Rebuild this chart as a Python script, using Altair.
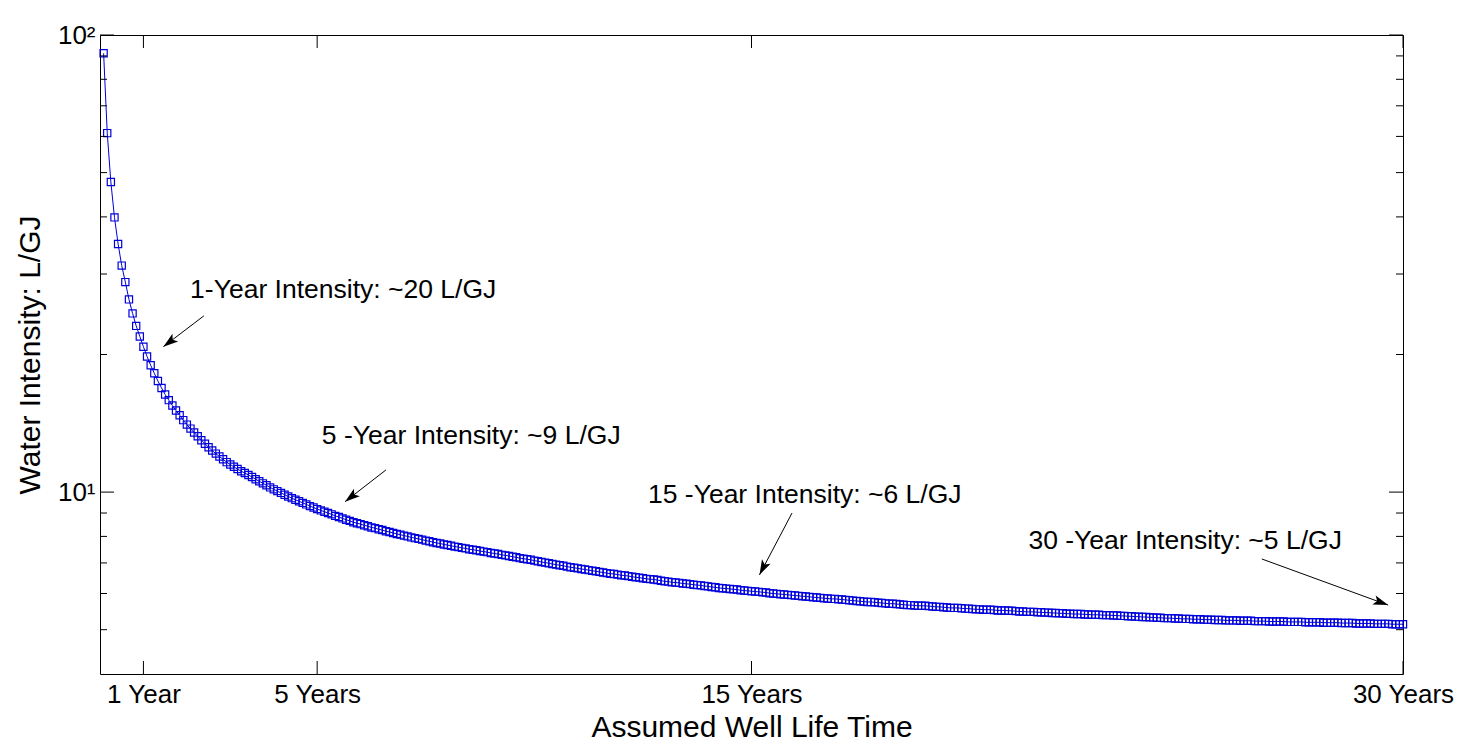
import altair as alt
import pandas as pd

# Water intensity (L/GJ) at the end of each month of well life, months 1..360
months = list(range(1, 361))
intensity = [
    91.2, 61.0, 47.7, 39.9, 34.9, 31.3, 28.8, 26.4, 24.6, 23.1,
    21.9, 20.8, 19.8, 18.95, 18.2, 17.5, 16.9, 16.35, 15.89, 15.47,
    15.08, 14.73, 14.37, 14.05, 13.77, 13.50, 13.25, 12.99, 12.76, 12.53,
    12.33, 12.14, 11.96, 11.80, 11.63, 11.49, 11.36, 11.23, 11.11, 11.01,
    10.90, 10.79, 10.67, 10.56, 10.45, 10.35, 10.24, 10.14, 10.05, 9.96,
    9.87, 9.78, 9.70, 9.62, 9.55, 9.47, 9.40, 9.32, 9.25, 9.18,
    9.12, 9.06, 9.00, 8.94, 8.87, 8.82, 8.76, 8.70, 8.65, 8.59,
    8.55, 8.51, 8.46, 8.42, 8.37, 8.34, 8.29, 8.26, 8.21, 8.18,
    8.14, 8.10, 8.07, 8.03, 8.00, 7.96, 7.93, 7.90, 7.87, 7.83,
    7.81, 7.77, 7.74, 7.72, 7.68, 7.66, 7.63, 7.60, 7.58, 7.55,
    7.53, 7.50, 7.48, 7.46, 7.43, 7.41, 7.39, 7.36, 7.34, 7.32,
    7.29, 7.27, 7.25, 7.22, 7.20, 7.17, 7.15, 7.13, 7.11, 7.08,
    7.06, 7.03, 7.01, 6.99, 6.96, 6.94, 6.92, 6.90, 6.87, 6.85,
    6.83, 6.81, 6.79, 6.77, 6.75, 6.73, 6.71, 6.69, 6.67, 6.65,
    6.63, 6.62, 6.60, 6.58, 6.57, 6.55, 6.53, 6.51, 6.50, 6.48,
    6.46, 6.45, 6.44, 6.42, 6.40, 6.38, 6.37, 6.35, 6.34, 6.33,
    6.31, 6.30, 6.29, 6.27, 6.26, 6.25, 6.23, 6.22, 6.20, 6.19,
    6.17, 6.16, 6.15, 6.14, 6.13, 6.12, 6.10, 6.09, 6.08, 6.07,
    6.06, 6.05, 6.04, 6.03, 6.01, 6.00, 5.99, 5.98, 5.97, 5.96,
    5.95, 5.94, 5.93, 5.92, 5.91, 5.90, 5.89, 5.88, 5.87, 5.86,
    5.85, 5.84, 5.84, 5.83, 5.82, 5.81, 5.80, 5.79, 5.78, 5.77,
    5.76, 5.75, 5.75, 5.74, 5.73, 5.72, 5.71, 5.70, 5.70, 5.69,
    5.68, 5.67, 5.66, 5.66, 5.65, 5.64, 5.64, 5.64, 5.63, 5.62,
    5.61, 5.61, 5.60, 5.59, 5.58, 5.58, 5.58, 5.57, 5.56, 5.56,
    5.55, 5.54, 5.54, 5.53, 5.53, 5.53, 5.52, 5.51, 5.51, 5.51,
    5.50, 5.50, 5.49, 5.48, 5.48, 5.47, 5.47, 5.47, 5.46, 5.46,
    5.45, 5.45, 5.44, 5.44, 5.43, 5.43, 5.42, 5.42, 5.41, 5.41,
    5.41, 5.40, 5.40, 5.39, 5.39, 5.39, 5.38, 5.38, 5.38, 5.37,
    5.37, 5.36, 5.36, 5.35, 5.35, 5.34, 5.34, 5.33, 5.33, 5.32,
    5.32, 5.31, 5.31, 5.30, 5.30, 5.30, 5.29, 5.29, 5.28, 5.28,
    5.28, 5.27, 5.27, 5.27, 5.26, 5.26, 5.26, 5.25, 5.25, 5.25,
    5.24, 5.24, 5.24, 5.24, 5.23, 5.23, 5.23, 5.23, 5.22, 5.22,
    5.22, 5.22, 5.21, 5.21, 5.21, 5.21, 5.21, 5.20, 5.20, 5.20,
    5.20, 5.20, 5.19, 5.19, 5.19, 5.19, 5.19, 5.18, 5.18, 5.18,
    5.18, 5.18, 5.17, 5.17, 5.17, 5.17, 5.16, 5.16, 5.16, 5.16,
    5.16, 5.15, 5.15, 5.15, 5.15, 5.15, 5.14, 5.14, 5.14, 5.14,
]

# Axis ticks and labels
tick_months = [12, 60, 180, 360]
tick_names = ["1 Year", "5 Years", "15 Years", "30 Years"]
decades = [10, 100]
decade_names = ["10\u00b9", "10\u00b2"]
minor_levels = [5, 6, 7, 8, 9, 20, 30, 40, 50, 60, 70, 80, 90]

# Callout texts, anchored at their left baseline (month, L/GJ)
note_text = [
    "1-Year Intensity: ~20 L/GJ",
    "5 -Year Intensity: ~9 L/GJ",
    "15 -Year Intensity: ~6 L/GJ",
    "30 -Year Intensity: ~5 L/GJ",
]
note_month = [24.9, 61.3, 151.4, 256.5]
note_level = [26.6, 12.74, 9.47, 7.50]

# Arrows: tail -> head, in (month, L/GJ)
arrow_tail_month = [28.7, 79.0, 191.2, 321.0]
arrow_tail_level = [24.3, 11.18, 9.00, 7.14]
arrow_head_month = [17.5, 67.7, 182.2, 355.9]
arrow_head_level = [20.8, 9.53, 6.59, 5.66]
arrow_angle = [233, 232, 207, 110]

W, H = 1303, 639
BLUE = "#0000dc"
FONT = "Liberation Sans"

df = pd.DataFrame({"month": months, "intensity": intensity})
xs = alt.Scale(domain=[0, 360], nice=False, zero=False)
ys = alt.Scale(type="log", domain=[4, 100], nice=False)


def case_expr(values, names):
    expr = "''"
    for v, n in reversed(list(zip(values, names))):
        expr = f"datum.value == {v} ? '{n}' : ({expr})"
    return expr


x_axis = alt.Axis(
    values=tick_months, labelExpr=case_expr(tick_months, tick_names),
    ticks=False, domain=False, grid=False, labelFontSize=26, labelPadding=7,
    labelFlush=False, labelOverlap=False, title="Assumed Well Life Time",
    titleFontSize=30, titleFontWeight="normal",
    titleX=W / 2, titleY=62, titleBaseline="alphabetic", titleAlign="center",
)
y_axis = alt.Axis(
    values=decades, labelExpr=case_expr(decades, decade_names),
    ticks=False, domain=False, grid=False, labelFontSize=26, labelPadding=5,
    labelOverlap=False, labelFlush=False, title="Water Intensity: L/GJ",
    titleFontSize=30, titleFontWeight="normal",
    titleX=-61, titleY=H / 2, titleAngle=270, titleBaseline="alphabetic",
    titleAlign="center",
)


def X(field):
    return alt.X(field, type="quantitative", scale=xs, axis=x_axis)


def Y(field):
    return alt.Y(field, type="quantitative", scale=ys, axis=y_axis)


base = alt.Chart(df)
curve = base.mark_line(color=BLUE, strokeWidth=1).encode(
    x=X("month"), y=Y("intensity"),
)
markers = base.mark_point(
    shape="square", size=52, filled=False, color=BLUE, strokeWidth=1.2, opacity=1
).encode(x=X("month"), y=Y("intensity"))

# Inward tick marks on all four sides of the box
minor_df = pd.DataFrame({"level": minor_levels})
major_df = pd.DataFrame({"level": decades})
xt_df = pd.DataFrame({"month": tick_months})


def ytick(data, x0, x1):
    return alt.Chart(data).mark_rule(color="black", strokeWidth=1).encode(
        y=Y("level"), x=alt.value(x0), x2=alt.value(x1),
    )


def xtick(y0, y1):
    return alt.Chart(xt_df).mark_rule(color="black", strokeWidth=1).encode(
        x=X("month"), y=alt.value(y0), y2=alt.value(y1),
    )


ticks = [
    ytick(minor_df, 0, 7), ytick(minor_df, W - 7, W),
    ytick(major_df, 0, 14), ytick(major_df, W - 14, W),
    xtick(H - 13, H), xtick(0, 13),
]

notes_df = pd.DataFrame({"text": note_text, "month": note_month, "level": note_level})
notes = alt.Chart(notes_df).mark_text(
    align="left", baseline="alphabetic", font=FONT, fontSize=26.5, color="black"
).encode(x=X("month"), y=Y("level"), text="text:N")

arrows_df = pd.DataFrame({
    "m0": arrow_tail_month, "l0": arrow_tail_level,
    "m1": arrow_head_month, "l1": arrow_head_level,
    "angle": arrow_angle,
})
shafts = alt.Chart(arrows_df).mark_rule(color="black", strokeWidth=1).encode(
    x=X("m0"), y=Y("l0"), x2="m1:Q", y2="l1:Q",
)
heads = alt.Chart(arrows_df).mark_point(
    shape="M0,0 L0.32,1 L0,0.78 L-0.32,1 Z", size=900, filled=True,
    color="black", opacity=1, strokeWidth=0,
).encode(x=X("m1"), y=Y("l1"), angle=alt.Angle("angle:Q", scale=None))

chart = alt.layer(curve, markers, *ticks, shafts, heads, notes).properties(
    width=W, height=H,
    autosize=alt.AutoSizeParams(type="none"),
    padding={"left": 100, "top": 35, "right": 59, "bottom": 71},
    background="white",
).configure_view(
    stroke="black", strokeWidth=1,
).configure_axis(
    labelFont=FONT, titleFont=FONT, labelColor="black", titleColor="black",
)

chart.save("out.html", embed_options={"renderer": "svg", "actions": False})
